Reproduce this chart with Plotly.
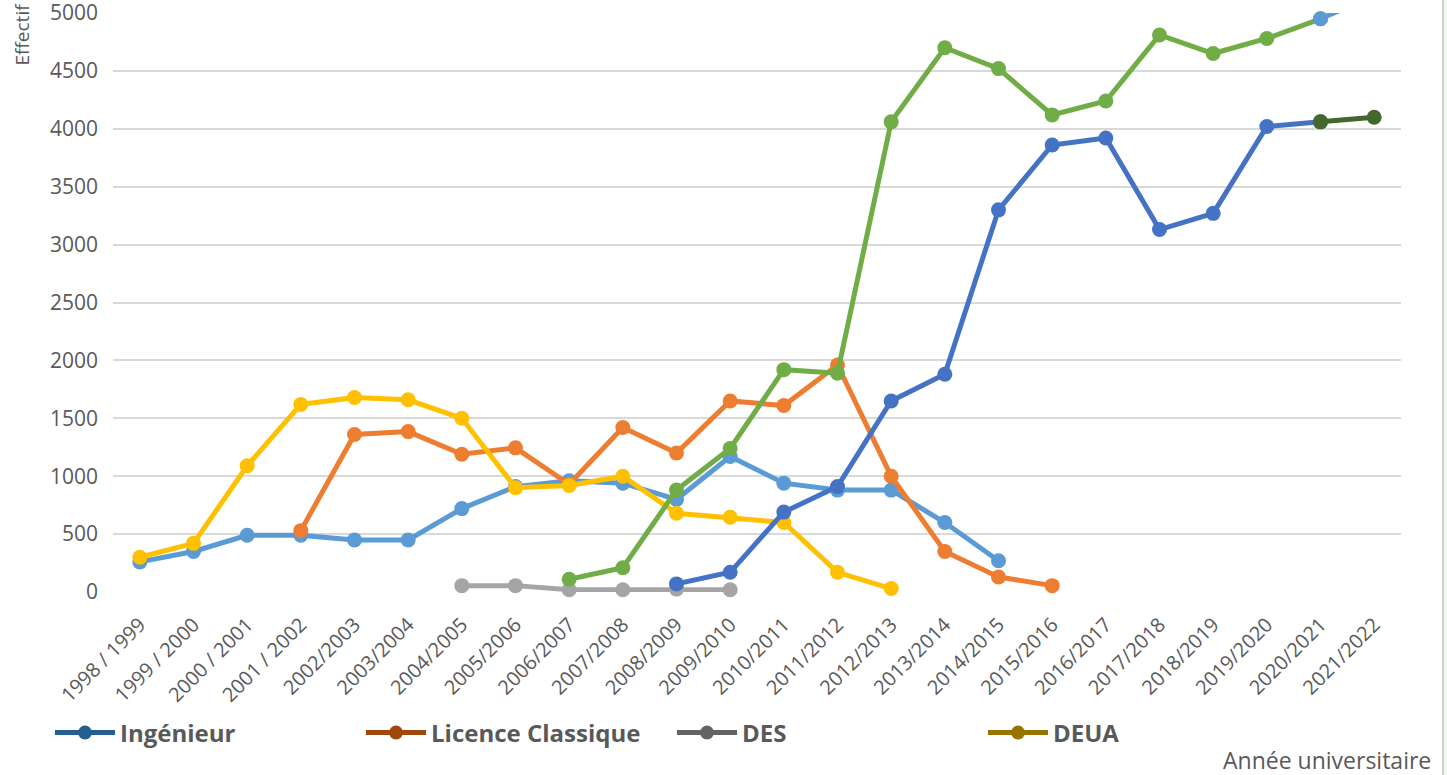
import plotly.graph_objects as go

years = ["1998 / 1999", "1999 / 2000", "2000 / 2001", "2001 / 2002", "2002/2003", "2003/2004",
         "2004/2005", "2005/2006", "2006/2007", "2007/2008", "2008/2009", "2009/2010",
         "2010/2011", "2011/2012", "2012/2013", "2013/2014", "2014/2015", "2015/2016",
         "2016/2017", "2017/2018", "2018/2019", "2019/2020", "2020/2021", "2021/2022"]
N = None
s_lightblue = [260, 350, 490, 490, 450, 450, 720, 910, 960, 940, 800, 1170, 940, 880, 880, 600, 270,
               N, N, N, N, N, N, N]
s_lightblue_tail = [N]*22 + [4950, 5150]
s_orange = [N, N, N, 530, 1360, 1385, 1190, 1245, 930, 1420, 1200, 1650, 1610, 1960, 1000, 350, 130, 55,
            N, N, N, N, N, N]
s_gray = [N]*6 + [55, 55, 20, 20, 25, 20] + [N]*12
s_yellow = [300, 420, 1090, 1620, 1680, 1660, 1500, 900, 920, 1000, 680, 645, 600, 170, 30] + [N]*9
s_blue = [N]*10 + [70, 170, 690, 910, 1650, 1880, 3300, 3860, 3920, 3130, 3270, 4020, 4060, N]
s_green = [N]*8 + [110, 210, 880, 1240, 1920, 1890, 4060, 4700, 4520, 4120, 4240, 4810, 4650, 4780, 4950, N]
s_darkgreen = [N]*22 + [4060, 4100]

legend_names = ["Ingénieur", "Licence Classique", "DES", "DEUA"]
legend_colors = ["#255E91", "#9E480E", "#636363", "#997300"]

fig = go.Figure()

def add(y, color, name=None, show=False):
    fig.add_trace(go.Scatter(
        x=years, y=y, mode="lines+markers", name=name, showlegend=show,
        line=dict(color=color, width=5), marker=dict(color=color, size=15),
        cliponaxis=False, connectgaps=False, hoverinfo="x+y"))

add(s_lightblue, "#5B9BD5")
add(s_orange, "#ED7D31")
add(s_gray, "#A5A5A5")
add(s_yellow, "#FFC000")
add(s_blue, "#4472C4")
add(s_green, "#70AD47")
add(s_lightblue_tail, "#5B9BD5")
add(s_darkgreen, "#43682B")

for nm, c in zip(legend_names, legend_colors):
    fig.add_trace(go.Scatter(x=[years[0]], y=[None], mode="lines+markers", name=nm,
                             line=dict(color=c, width=5), marker=dict(color=c, size=14)))

# plot area in page coords: x 113..1401, y 13..592 (body margin removed below)
PL, PW, PT, PH = 113, 1288, 13, 579
W, H = 1447, 775
def px(x): return (x - PL) / PW
def py(y): return (PT + PH - y) / PH

fig.update_layout(
    width=W, height=H,
    margin=dict(l=PL, r=W - PL - PW, t=PT, b=H - PT - PH, autoexpand=False),
    paper_bgcolor="white", plot_bgcolor="white",
    font=dict(family="Open Sans", color="#595959"),
    xaxis=dict(type="category", categoryorder="array", categoryarray=years,
               range=[-0.5, 23.5], tickangle=-45, showgrid=False, showline=False,
               ticks="", tickfont=dict(size=20, color="#595959"), automargin=False,
               ticklabelstandoff=16),
    yaxis=dict(range=[0, 5000], dtick=500, showgrid=True, gridcolor="#D9D9D9", gridwidth=2,
               zeroline=False, showline=False, tickfont=dict(size=21, color="#595959"),
               ticklabelstandoff=14, automargin=False, ticklabeloverflow="allow"),
    legend=dict(orientation="h", xref="container", yref="container",
                x=50 / W, xanchor="left", y=1 - 710.5 / H, yanchor="top",
                font=dict(size=24, color="#595959", family="Open Sans", weight="bold"),
                entrywidth=236, entrywidthmode="pixels", itemwidth=60,
                bgcolor="rgba(0,0,0,0)"),
    annotations=[
        dict(text="Effectif", xref="paper", yref="paper", x=px(22), y=py(1), xanchor="center",
             yanchor="top", textangle=-90, showarrow=False, font=dict(size=19, color="#595959")),
        dict(text="Année universitaire", xref="paper", yref="paper", x=px(1433),
             y=py(760), xanchor="right", yanchor="middle", showarrow=False,
             font=dict(size=23, color="#595959")),
    ],
    shapes=[
        dict(type="rect", xref="paper", yref="paper", x0=px(1443), x1=px(1450),
             y0=-0.4, y1=1.05, fillcolor="#EEF8EC", line=dict(width=0), layer="below"),
        dict(type="line", xref="paper", yref="paper", x0=px(1443), x1=px(1443),
             y0=-0.4, y1=1.05, line=dict(color="#D0D0D0", width=2)),
    ],
)

fig.write_html("out.html", config={"displayModeBar": False},
               post_script="document.body.style.margin='0';document.body.style.overflow='hidden';")
